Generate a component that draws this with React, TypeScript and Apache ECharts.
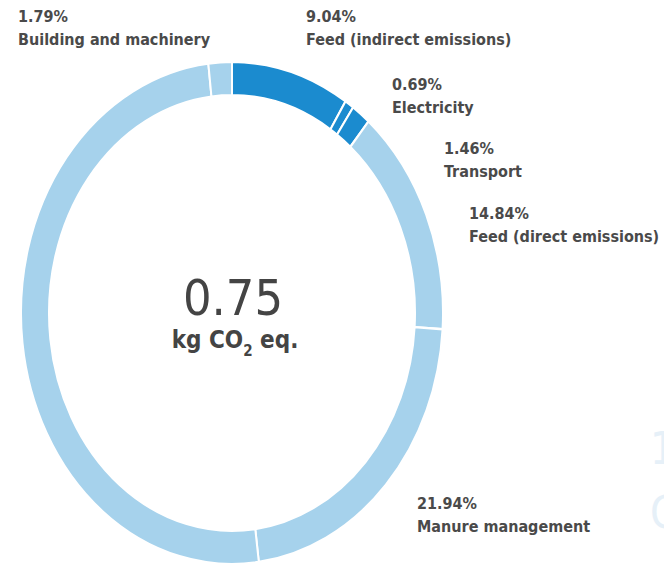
import React, { useEffect, useRef } from 'react';
import * as echarts from 'echarts';

// ---- data ----
const categories = [
  'Feed (indirect emissions)',
  'Electricity',
  'Transport',
  'Feed (direct emissions)',
  'Manure management',
  'Other',
  'Building and machinery',
];
const shares = [9.04, 0.69, 1.46, 14.84, 21.94, 50.24, 1.79];
const highlighted = [true, true, true, false, false, false, false];
const shownLabels = [true, true, true, true, true, false, true];
const totalValue = '0.75';

// ---- layout / style (not data) ----
const DARK = '#1b8bcf';
const LIGHT = '#a6d2ec';
const TEXT = '#4a4a4a';
const FONT = '"DejaVu Sans Condensed", "DejaVu Sans", sans-serif';
const labelPos: Record<string, [number, number]> = {
  'Feed (indirect emissions)': [306, 16],
  'Electricity': [392, 84],
  'Transport': [444, 148],
  'Feed (direct emissions)': [469, 213],
  'Manure management': [417, 503],
  'Building and machinery': [18, 16],
};

export default function App() {
  const pieRef = useRef<HTMLDivElement>(null);
  const textRef = useRef<HTMLDivElement>(null);

  useEffect(() => {
    const pie = echarts.init(pieRef.current!, null, { renderer: 'svg' });
    pie.setOption({
      animation: false,
      series: [
        {
          type: 'pie',
          center: [232, 313],
          radius: [183, 211],
          startAngle: 90,
          clockwise: true,
          label: { show: false },
          labelLine: { show: false },
          emphasis: { disabled: true },
          itemStyle: { borderColor: '#ffffff', borderWidth: 2 },
          data: categories.map((name, i) => ({
            name,
            value: shares[i],
            itemStyle: { color: highlighted[i] ? DARK : LIGHT },
          })),
        },
      ],
    });

    const txt = echarts.init(textRef.current!, null, { renderer: 'svg' });
    const graphics: any[] = [];
    categories.forEach((name, i) => {
      if (!shownLabels[i]) return;
      const [x, y] = labelPos[name];
      graphics.push({
        type: 'text',
        x,
        y,
        style: {
          text: shares[i].toFixed(2) + '%',
          fill: TEXT,
          fontFamily: FONT,
          fontSize: 16,
          fontWeight: 'bold',
          verticalAlign: 'middle',
          align: 'left',
        },
      });
      graphics.push({
        type: 'text',
        x,
        y: y + 23,
        style: {
          text: name,
          fill: TEXT,
          fontFamily: FONT,
          fontSize: 16,
          fontWeight: 'bold',
          verticalAlign: 'middle',
          align: 'left',
        },
      });
    });
    graphics.push({
      type: 'text',
      x: 233,
      y: 298,
      style: {
        text: totalValue,
        fill: '#444444',
        fontFamily: FONT,
        fontSize: 50,
        verticalAlign: 'middle',
        align: 'center',
      },
    });
    graphics.push({
      type: 'text',
      x: 235,
      y: 338,
      style: {
        text: '{a|kg CO}{s|2}{a| eq.}',
        fill: '#444444',
        align: 'center',
        verticalAlign: 'middle',
        rich: {
          a: { fontFamily: FONT, fontSize: 24, fontWeight: 'bold', fill: '#444444', verticalAlign: 'bottom', lineHeight: 28 },
          s: { fontFamily: FONT, fontSize: 15, fontWeight: 'bold', fill: '#444444', verticalAlign: 'bottom', lineHeight: 20, padding: [0, 0, -6, 0] },
        },
      },
    });
    // faint neighbouring chart edge on the right (cut off in the reference too)
    graphics.push({
      type: 'text', x: 650, y: 448,
      style: { text: '1', fill: '#e6f0f8', fontFamily: FONT, fontSize: 44, verticalAlign: 'middle', align: 'left' },
    });
    graphics.push({
      type: 'text', x: 650, y: 512,
      style: { text: 'C', fill: '#e6f0f8', fontFamily: FONT, fontSize: 44, verticalAlign: 'middle', align: 'left' },
    });
    txt.setOption({ animation: false, graphic: graphics });

    return () => {
      pie.dispose();
      txt.dispose();
    };
  }, []);

  return (
    <div style={{ position: 'absolute', left: 0, top: 0, width: 664, height: 570, background: '#fff', overflow: 'hidden' }}>
      <div
        ref={pieRef}
        style={{
          position: 'absolute', left: 0, top: 0, width: 664, height: 570,
          transform: 'scaleY(1.19)', transformOrigin: '232px 313px',
        }}
      />
      <div
        ref={textRef}
        style={{ position: 'absolute', left: 0, top: 0, width: 664, height: 570 }}
      />
    </div>
  );
}
